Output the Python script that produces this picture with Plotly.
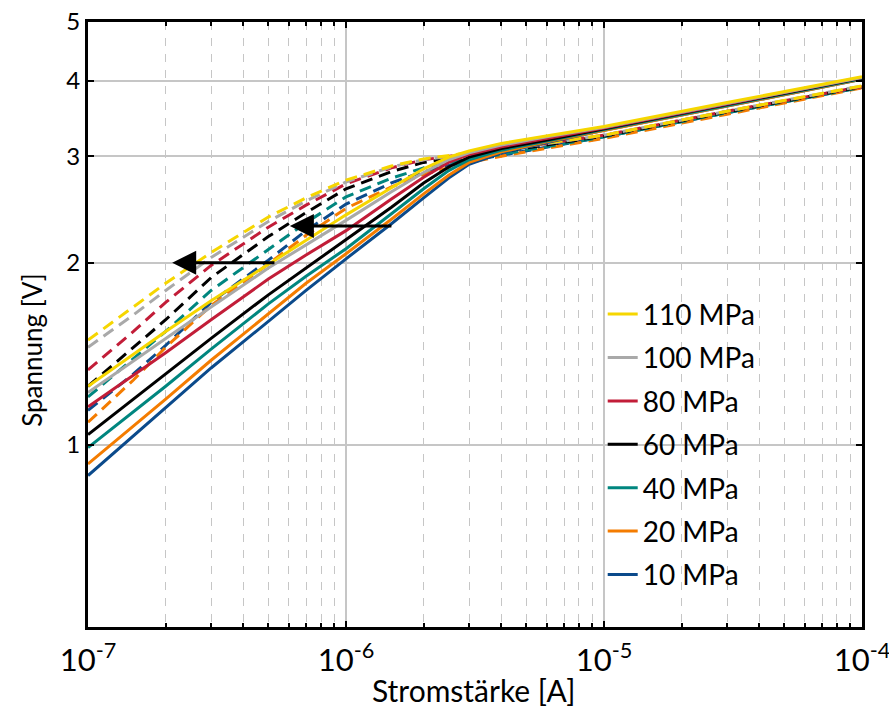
import math
import plotly.graph_objects as go

# ---------------- data ----------------
labels = ["10 MPa", "20 MPa", "40 MPa", "60 MPa", "80 MPa", "100 MPa", "110 MPa"]
colors = ["#0b4a8b", "#f47c00", "#00867f", "#000000", "#c21d38", "#a9a9a9", "#f6d600"]

# solid curves (current in A, voltage in V)
I_solid = [1e-7, 2e-7, 3e-7, 5e-7, 7e-7, 1e-6, 1.5e-6, 2e-6, 2.5e-6, 3e-6, 4e-6, 6e-6, 1e-5, 3e-5, 1e-4]
V_solid_10 = [0.89, 1.15, 1.34, 1.60, 1.80, 2.03, 2.32, 2.56, 2.76, 2.91, 3.04, 3.16, 3.31, 3.63, 4.02]
V_solid_20 = [0.93, 1.19, 1.38, 1.65, 1.85, 2.07, 2.36, 2.60, 2.79, 2.93, 3.05, 3.17, 3.31, 3.63, 4.02]
V_solid_40 = [0.99, 1.25, 1.44, 1.71, 1.90, 2.11, 2.41, 2.65, 2.84, 2.96, 3.07, 3.18, 3.32, 3.64, 4.03]
V_solid_60 = [1.04, 1.31, 1.50, 1.77, 1.96, 2.18, 2.47, 2.71, 2.88, 2.99, 3.09, 3.19, 3.33, 3.65, 4.04]
V_solid_80 = [1.156, 1.42, 1.61, 1.88, 2.06, 2.26, 2.55, 2.77, 2.93, 3.02, 3.11, 3.21, 3.34, 3.66, 4.05]
V_solid_100 = [1.22, 1.50, 1.69, 1.96, 2.14, 2.35, 2.62, 2.82, 2.96, 3.04, 3.13, 3.23, 3.35, 3.67, 4.05]
V_solid_110 = [1.25, 1.54, 1.73, 1.99, 2.18, 2.40, 2.66, 2.86, 2.99, 3.06, 3.15, 3.24, 3.36, 3.68, 4.06]

# dashed curves
I_dash = [1e-7, 1.5e-7, 2e-7, 3e-7, 5e-7, 7e-7, 1e-6, 1.5e-6, 2e-6, 3e-6, 4e-6, 1e-5, 3e-5, 1e-4]
V_dash_10 = [1.14, 1.31, 1.46, 1.72, 2.02, 2.26, 2.50, 2.71, 2.83, 2.95, 3.01, 3.23, 3.54, 3.90]
V_dash_20 = [1.09, 1.28, 1.45, 1.70, 1.99, 2.22, 2.46, 2.67, 2.80, 2.93, 3.00, 3.21, 3.52, 3.89]
V_dash_40 = [1.20, 1.39, 1.54, 1.80, 2.10, 2.33, 2.57, 2.76, 2.87, 2.97, 3.02, 3.23, 3.54, 3.90]
V_dash_60 = [1.25, 1.45, 1.61, 1.89, 2.21, 2.42, 2.65, 2.83, 2.93, 3.01, 3.05, 3.24, 3.55, 3.91]
V_dash_80 = [1.33, 1.54, 1.72, 1.98, 2.29, 2.49, 2.70, 2.87, 2.96, 3.03, 3.07, 3.25, 3.56, 3.91]
V_dash_100 = [1.45, 1.64, 1.80, 2.04, 2.34, 2.53, 2.72, 2.88, 2.96, 3.03, 3.07, 3.25, 3.56, 3.92]
V_dash_110 = [1.49, 1.69, 1.85, 2.08, 2.38, 2.56, 2.74, 2.89, 2.97, 3.04, 3.08, 3.25, 3.56, 3.92]

V_solid = [V_solid_10, V_solid_20, V_solid_40, V_solid_60, V_solid_80, V_solid_100, V_solid_110]
V_dash = [V_dash_10, V_dash_20, V_dash_40, V_dash_60, V_dash_80, V_dash_100, V_dash_110]

# arrows: (tail current, tip current, voltage)
arrows = [(1.52e-6, 6.06e-7, 2.30), (5.35e-7, 2.12e-7, 2.00)]

x_ticks = [1e-7, 1e-6, 1e-5, 1e-4]
x_ticktext = ["10<sup>-7</sup>", "10<sup>-6</sup>", "10<sup>-5</sup>", "10<sup>-4</sup>"]
y_ticks = [1, 2, 3, 4, 5]
x_title = "Stromstärke [A]"
y_title = "Spannung [V]"

FONT = "Lato"

fig = go.Figure()

for lab, col, vd in zip(labels, colors, V_dash):
    fig.add_trace(go.Scatter(x=I_dash, y=vd, mode="lines", showlegend=False,
                             line=dict(color=col, width=3, dash="12px,7px")))

n = len(labels)
for k, (lab, col, vs) in enumerate(zip(labels, colors, V_solid)):
    fig.add_trace(go.Scatter(x=I_solid, y=vs, mode="lines", name=lab, legendgroup=lab,
                             legendrank=n - k,
                             line=dict(color=col, width=3)))

for tail, tip, v in arrows:
    fig.add_annotation(x=math.log10(tip), y=math.log10(v), ax=math.log10(tail), ay=math.log10(v),
                       xref="x", yref="y", axref="x", ayref="y", text="", showarrow=True,
                       arrowhead=2, arrowsize=1.6, arrowwidth=3, arrowcolor="black", standoff=0)

# axis titles as annotations (placed like the original)
fig.add_annotation(text=x_title, xref="paper", yref="paper", x=0.4987, y=-0.104,
                   xanchor="center", yanchor="middle", showarrow=False,
                   font=dict(size=30, family=FONT, color="black"))
fig.add_annotation(text=y_title, xref="paper", yref="paper", x=-0.0724, y=0.458,
                   xanchor="center", yanchor="middle", showarrow=False, textangle=-90,
                   font=dict(size=26, family=FONT, color="black"))

grid_col = "#c6c6c6"
fig.update_xaxes(type="log", range=[-7.0001, -3.9999], tickvals=x_ticks, ticktext=x_ticktext,
                 ticklabeloverflow="allow", automargin=False, ticklabelstandoff=4,
                 showline=True, linewidth=3, linecolor="black", mirror="ticks",
                 ticks="inside", ticklen=6, tickwidth=2, tickcolor="black",
                 showgrid=True, gridcolor=grid_col, gridwidth=2,
                 minor=dict(tickmode="linear", dtick="D1", showgrid=True, gridcolor=grid_col, gridwidth=1,
                            griddash="8px,8px", ticks="inside", ticklen=4, tickwidth=2, tickcolor="black"),
                 tickfont=dict(size=31, family=FONT, color="black"), zeroline=False)
fig.update_yaxes(type="log", range=[math.log10(0.5), math.log10(5)], tickvals=y_ticks,
                 ticktext=[str(t) for t in y_ticks], automargin=False,
                 showline=True, linewidth=3, linecolor="black", mirror="ticks",
                 ticks="inside", ticklen=6, tickwidth=2, tickcolor="black",
                 showgrid=True, gridcolor=grid_col, gridwidth=2,
                 tickfont=dict(size=24, family=FONT, color="black"), zeroline=False)

fig.update_layout(
    width=889, height=711,
    margin=dict(l=88, r=27, t=22, b=84),
    paper_bgcolor="white", plot_bgcolor="white",
    font=dict(family=FONT, color="black"),
    legend=dict(x=0.665, y=0.558, xanchor="left", yanchor="top", bgcolor="rgba(0,0,0,0)",
                font=dict(size=28, family=FONT, color="black"), traceorder="grouped",
                itemwidth=30, tracegroupgap=4),
)

fig.write_html("out.html")
